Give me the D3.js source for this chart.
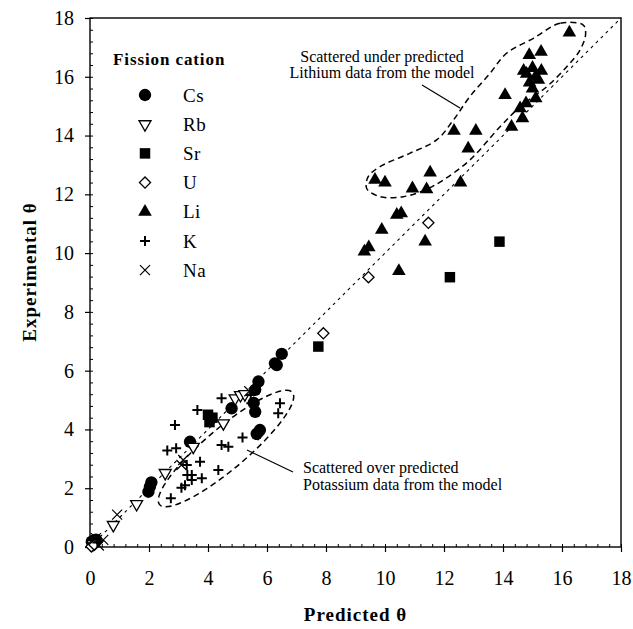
<!DOCTYPE html>
<html>
<head>
<meta charset="utf-8">
<script src="https://cdn.jsdelivr.net/npm/d3@7"></script>
<style>
  body { margin: 0; background: #fff; }
  text { font-family: "Liberation Serif", "DejaVu Serif", serif; fill: #000; }
</style>
</head>
<body>
<svg class="chart"></svg>
<script>
// ---- data (predicted, experimental) ----
const csPoints = [[0.06, 0.18], [0.2, 0.25], [1.98, 1.88], [2.03, 2.05], [2.08, 2.2], [3.39, 3.58],
  [4.8, 4.72], [5.6, 4.6], [5.55, 4.9], [5.76, 3.98], [5.65, 3.85], [5.71, 5.63], [5.6, 5.35],
  [6.27, 6.25], [6.33, 6.19], [6.5, 6.57]];
const rbPoints = [[0.1, 0.1], [0.79, 0.75], [1.58, 1.46], [2.55, 2.52], [3.5, 3.41], [4.52, 4.21],
  [4.92, 5.06], [5.1, 5.17], [5.25, 5.2]];
const srPoints = [[4.0, 4.5], [4.05, 4.25], [4.15, 4.4], [7.74, 6.82], [12.2, 9.18], [13.88, 10.39]];
const uPoints = [[0.05, 0.02], [0.15, 0.08], [7.91, 7.27], [9.44, 9.18], [11.47, 11.03]];
const liPoints = [[9.3, 10.05], [9.45, 10.2], [9.89, 10.79], [10.4, 11.3], [10.55, 11.35], [10.47, 9.39],
  [11.36, 10.39], [9.66, 12.49], [10.0, 12.4], [10.93, 12.2], [11.41, 12.17], [11.53, 12.74],
  [12.56, 12.4], [12.82, 13.56], [12.34, 14.16], [13.08, 14.16], [14.07, 15.38], [14.29, 14.3],
  [14.66, 14.59], [14.58, 14.93], [14.78, 15.1], [15.11, 15.27], [14.8, 16.1], [15.0, 16.3],
  [15.1, 16.0], [15.3, 16.2], [14.9, 15.8], [15.2, 15.9], [15.0, 15.6], [14.7, 16.2],
  [14.89, 16.74], [15.29, 16.85], [16.25, 17.5]];
const kPoints = [[0.25, 0.15], [2.74, 1.66], [3.1, 2.02], [3.22, 2.1], [3.45, 2.28], [3.45, 2.45],
  [3.79, 2.34], [4.35, 2.62], [3.28, 2.79], [3.73, 2.9], [2.62, 3.28], [2.92, 3.36], [4.46, 3.47],
  [4.69, 3.41], [5.17, 3.73], [2.88, 4.15], [3.64, 4.66], [4.46, 5.06], [5.45, 5.17], [5.47, 4.89],
  [6.38, 4.55], [6.44, 4.89], [5.7, 3.8], [3.3, 2.45]];
const naPoints = [[0.2, 0.3], [0.45, 0.24], [0.3, 0.05], [0.92, 1.1], [3.16, 2.96], [3.1, 2.79], [5.4, 5.3]];

const cations = ["Cs", "Rb", "Sr", "U", "Li", "K", "Na"];
const seriesPoints = [csPoints, rbPoints, srPoints, uPoints, liPoints, kPoints, naPoints];

const majorTicks = [0, 2, 4, 6, 8, 10, 12, 14, 16, 18];
const minorTicks = d3.range(0, 18.01, 0.4);

// outline of the "under predicted" lithium region (data units)
const liOutline = [[16.72, 17.76], [15.93, 17.82], [15.03, 17.31], [14.12, 16.8], [13.56, 16.12],
  [12.88, 15.33], [12.32, 14.53], [11.75, 13.85], [10.85, 13.4], [9.83, 12.94], [9.43, 12.6],
  [9.38, 12.2], [9.83, 11.92], [10.62, 11.92], [11.36, 12.15], [11.98, 12.49], [12.88, 13.17],
  [13.9, 14.3], [14.58, 14.98], [15.48, 15.66], [16.16, 16.34], [16.61, 16.91], [16.8, 17.45]];
// ellipse round the "over predicted" potassium points: centre, semi-axes, angle (deg)
const kEllipse = { cx: 4.61, cy: 3.35, a: 2.95, b: 0.7, angle: 40.3 };

const mainWidth = 633, mainHeight = 629;
const margin = { top: 18, right: 12, bottom: 82, left: 90 };
const width = mainWidth - margin.left - margin.right;
const height = mainHeight - margin.top - margin.bottom;

const svg = d3.select(".chart").attr("width", mainWidth).attr("height", mainHeight);
const chart = svg.append("g").attr("transform", `translate(${margin.left}, ${margin.top})`);

const xScale = d3.scaleLinear().domain([0, 18]).range([0, width]);
const yScale = d3.scaleLinear().domain([0, 18]).range([height, 0]);

// minor ticks point inwards, major ones outwards
chart.append("g").attr("transform", `translate(0, ${height})`)
  .call(d3.axisBottom(xScale).tickValues(minorTicks).tickSize(-3).tickFormat(""))
  .call(g => g.select(".domain").remove());
chart.append("g")
  .call(d3.axisLeft(yScale).tickValues(minorTicks).tickSize(-3).tickFormat(""))
  .call(g => g.select(".domain").remove());

const xAxis = chart.append("g").attr("transform", `translate(0, ${height})`)
  .call(d3.axisBottom(xScale).tickValues(majorTicks).tickSize(5).tickPadding(19).tickFormat(d3.format("d")));
const yAxis = chart.append("g")
  .call(d3.axisLeft(yScale).tickValues(majorTicks).tickSize(5).tickPadding(11).tickFormat(d3.format("d")));
[xAxis, yAxis].forEach(a => {
  a.selectAll("text").style("font-family", '"Liberation Serif", serif').style("font-size", "20px");
  a.selectAll("line").attr("stroke-width", 1.2);
  a.select(".domain").remove();
});

chart.append("rect")
  .attr("width", width).attr("height", height)
  .attr("fill", "none").attr("stroke", "#000").attr("stroke-width", 1.4);

// 1:1 line
chart.append("line")
  .attr("x1", xScale(0)).attr("y1", yScale(0))
  .attr("x2", xScale(18)).attr("y2", yScale(18))
  .attr("stroke", "#000").attr("stroke-width", 1.1)
  .attr("stroke-dasharray", "3,4");

// annotation regions
chart.append("path")
  .attr("d", d3.line().x(d => xScale(d[0])).y(d => yScale(d[1])).curve(d3.curveCatmullRomClosed)(liOutline))
  .attr("fill", "none").attr("stroke", "#000").attr("stroke-width", 1.5).attr("stroke-dasharray", "6,4");

const th = kEllipse.angle * Math.PI / 180;
const ellipsePts = d3.range(0, 360, 5).map(t => {
  const r = t * Math.PI / 180;
  const u = kEllipse.a * Math.cos(r), v = kEllipse.b * Math.sin(r);
  return [kEllipse.cx + u * Math.cos(th) - v * Math.sin(th), kEllipse.cy + u * Math.sin(th) + v * Math.cos(th)];
});
chart.append("path")
  .attr("d", d3.line().x(d => xScale(d[0])).y(d => yScale(d[1])).curve(d3.curveCatmullRomClosed)(ellipsePts))
  .attr("fill", "none").attr("stroke", "#000").attr("stroke-width", 1.5).attr("stroke-dasharray", "6,4");

// marker styles per cation
const markerStyle = {
  Cs: { d: d3.symbol(d3.symbolCircle, 120)(), fill: "#000", stroke: "none", rotate: 0 },
  Rb: { d: d3.symbol(d3.symbolTriangle, 62)(), fill: "#fff", stroke: "#000", rotate: 180 },
  Sr: { d: d3.symbol(d3.symbolSquare, 110)(), fill: "#000", stroke: "none", rotate: 0 },
  U: { d: d3.symbol(d3.symbolSquare, 62)(), fill: "#fff", stroke: "#000", rotate: 45 },
  Li: { d: d3.symbol(d3.symbolTriangle, 80)(), fill: "#000", stroke: "none", rotate: 0 },
  K: { d: "M-5,0H5M0,-5V5", fill: "none", stroke: "#000", rotate: 0, sw: 2 },
  Na: { d: "M-5,-5L5,5M-5,5L5,-5", fill: "none", stroke: "#000", rotate: 0, sw: 1.2 }
};

cations.forEach((name, i) => {
  const m = markerStyle[name];
  chart.append("g").selectAll("path")
    .data(seriesPoints[i])
    .enter()
    .append("path")
    .attr("d", m.d)
    .attr("fill", m.fill)
    .attr("stroke", m.stroke)
    .attr("stroke-width", m.sw || 1.3)
    .attr("transform", d => `translate(${xScale(d[0])}, ${yScale(d[1])}) rotate(${m.rotate})`);
});

// leader lines and notes
chart.append("line").attr("x1", 422 - margin.left).attr("y1", 85 - margin.top)
  .attr("x2", 460 - margin.left).attr("y2", 108 - margin.top)
  .attr("stroke", "#000").attr("stroke-width", 1.2);
chart.append("line").attr("x1", 247 - margin.left).attr("y1", 450 - margin.top)
  .attr("x2", 293 - margin.left).attr("y2", 472 - margin.top)
  .attr("stroke", "#000").attr("stroke-width", 1.2);

const notes = [
  { x: 382, y: 62, anchor: "middle", text: "Scattered under predicted" },
  { x: 382, y: 78, anchor: "middle", text: "Lithium data from the model" },
  { x: 303, y: 473, anchor: "start", text: "Scattered over predicted" },
  { x: 303, y: 490, anchor: "start", text: "Potassium data from the model" }
];
svg.selectAll(".note").data(notes).enter().append("text")
  .attr("class", "note")
  .attr("x", d => d.x).attr("y", d => d.y)
  .attr("text-anchor", d => d.anchor)
  .style("font-size", "16px")
  .text(d => d.text);

// legend
const legend = svg.append("g");
legend.append("text").attr("x", 113).attr("y", 65)
  .style("font-size", "17px").style("font-weight", "bold").style("letter-spacing", "0.9px")
  .text("Fission cation");
cations.forEach((name, i) => {
  const m = markerStyle[name];
  const y = 95 + i * 29.2;
  legend.append("path")
    .attr("d", m.d).attr("fill", m.fill).attr("stroke", m.stroke)
    .attr("stroke-width", m.sw || 1.3)
    .attr("transform", `translate(145, ${y}) rotate(${m.rotate})`);
  legend.append("text").attr("x", 183).attr("y", y + 6.5)
    .style("font-size", "19px").style("letter-spacing", "0.5px").text(name);
});

// axis titles
svg.append("text")
  .attr("x", margin.left + width / 2).attr("y", 621)
  .attr("text-anchor", "middle")
  .style("font-size", "19px").style("font-weight", "bold").style("letter-spacing", "1px")
  .text("Predicted θ");
svg.append("text")
  .attr("transform", `translate(36, 272) rotate(-90)`)
  .attr("text-anchor", "middle")
  .style("font-size", "19px").style("font-weight", "bold").style("letter-spacing", "1px")
  .text("Experimental θ");
</script>
</body>
</html>
